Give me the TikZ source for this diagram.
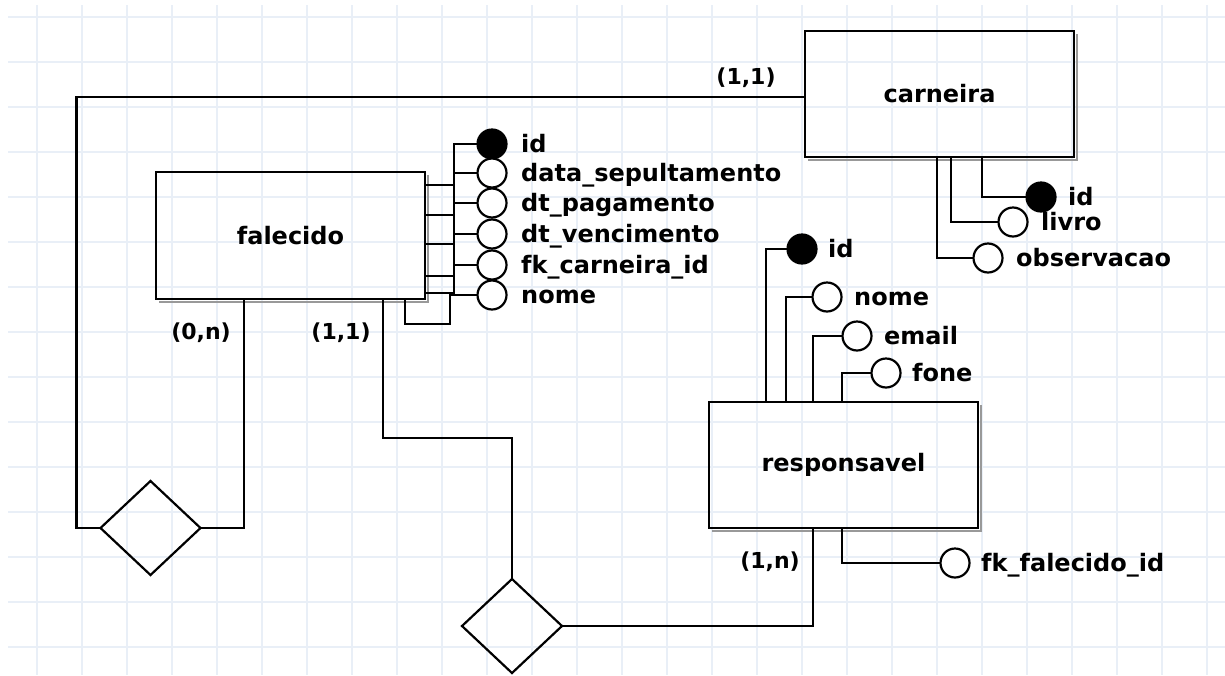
\documentclass[tikz,border=0pt]{standalone}
\usepackage{fontspec}
\setmainfont{DejaVu Sans}
\usetikzlibrary{shapes.geometric,backgrounds}
\begin{document}
\begin{tikzpicture}[x=1pt,y=-1pt,
  gridline/.style={draw={rgb,255:red,233;green,239;blue,247}, line width=1.5pt},
  shadowline/.style={draw=black!40, line width=2.4pt},
  entity/.style={draw, line width=2.6pt, rectangle, minimum width=269pt, minimum height=126pt, inner sep=0pt, outer sep=0pt, font=\fontsize{24pt}{28pt}\selectfont\bfseries},
  rel/.style={diamond, draw, line width=2.2pt, minimum width=100pt, minimum height=94pt, inner sep=0pt, outer sep=0pt},
  keyattr/.style={circle, draw, line width=2.2pt, fill=black, minimum size=29pt, inner sep=0pt, outer sep=0pt},
  attr/.style={circle, draw, line width=2.2pt, fill=white, minimum size=29pt, inner sep=0pt, outer sep=0pt},
  atext/.style={anchor=west, inner sep=0pt, text height=17pt, text depth=0pt, font=\fontsize{24pt}{28pt}\selectfont\bfseries},
  card/.style={inner sep=0pt, font=\fontsize{22pt}{26pt}\selectfont\bfseries},
  conn/.style={line width=2.2pt}
]
\useasboundingbox (0,0) rectangle (1225,675);

% entities
\node[entity, minimum height=127pt] (falecido) at (290.5,235.5) {falecido};
\node[entity] (carneira) at (939.5,94) {carneira};
\node[entity] (responsavel) at (843.5,465) {responsavel};

% relationships
\node[rel] (d1) at (150.5,528) {};
\node[rel] (d2) at (512,626) {};

% falecido attributes
\node[keyattr] (fa1) at (492,144) {};
\node[attr] (fa2) at (492,173) {};
\node[attr] (fa3) at (492,203) {};
\node[attr] (fa4) at (492,234) {};
\node[attr] (fa5) at (492,265) {};
\node[attr] (fa6) at (492,295) {};
\node[atext] (ft1) at (521,144) {id};
\node[atext] (ft2) at (521,173) {data\_sepultamento};
\node[atext] (ft3) at (521,203) {dt\_pagamento};
\node[atext] (ft4) at (521,234) {dt\_vencimento};
\node[atext] (ft5) at (521,265) {fk\_carneira\_id};
\node[atext] (ft6) at (521,295) {nome};

% carneira attributes
\node[keyattr] (ca1) at (1041,197) {};
\node[attr] (ca2) at (1013,222) {};
\node[attr] (ca3) at (988,258) {};
\node[atext] (ct1) at (1068,197) {id};
\node[atext] (ct2) at (1041,222) {livro};
\node[atext] (ct3) at (1016,258) {observacao};

% responsavel attributes
\node[keyattr] (ra1) at (802,249) {};
\node[attr] (ra2) at (827,297) {};
\node[attr] (ra3) at (857,336) {};
\node[attr] (ra4) at (886,373) {};
\node[attr] (ra5) at (955,563) {};
\node[atext] (rt1) at (828,249) {id};
\node[atext] (rt2) at (854,297) {nome};
\node[atext] (rt3) at (884,336) {email};
\node[atext] (rt4) at (912,373) {fone};
\node[atext] (rt5) at (981,563) {fk\_falecido\_id};

% cardinalities
\node[card] (c1) at (746,78) {(1,1)};
\node[card] (c2) at (201,333) {(0,n)};
\node[card] (c3) at (341,333) {(1,1)};
\node[card] (c4) at (770,562) {(1,n)};

% relationship connectors
\draw[conn] ([yshift=-3pt]carneira.west) -| ([xshift=-24pt]d1.west) -- (d1.west);
\draw[conn] (d1.east) -| ([xshift=88pt]falecido.south west);
\draw[conn] ([xshift=227pt]falecido.south west) |- ([yshift=141pt]d2.north) -- (d2.north);
\draw[conn] (d2.east) -| ([xshift=104pt]responsavel.south west);

% falecido attribute connectors
\draw[conn] ([yshift=-13pt]falecido.north east) -| ([xshift=-23.5pt]fa1.west) -- (fa1.west);
\draw[conn] ([yshift=-43pt]falecido.north east) -| ([xshift=-23.5pt]fa2.west) -- (fa2.west);
\draw[conn] ([yshift=-72pt]falecido.north east) -| ([xshift=-23.5pt]fa3.west) -- (fa3.west);
\draw[conn] ([yshift=-104pt]falecido.north east) -| ([xshift=-23.5pt]fa4.west) -- (fa4.west);
\draw[conn] ([yshift=-121pt]falecido.north east) -| ([xshift=-23.5pt]fa5.west) -- (fa5.west);
\draw[conn] ([xshift=-20pt]falecido.south east) -- ++(0,25) -| ([xshift=-27.5pt]fa6.west) -- (fa6.west);

% carneira attribute connectors
\draw[conn] ([xshift=42.5pt]carneira.south) |- (ca1.west);
\draw[conn] ([xshift=11.5pt]carneira.south) |- (ca2.west);
\draw[conn] ([xshift=-2.5pt]carneira.south) |- (ca3.west);

% responsavel attribute connectors
\draw[conn] ([xshift=57pt]responsavel.north west) |- (ra1.west);
\draw[conn] ([xshift=77pt]responsavel.north west) |- (ra2.west);
\draw[conn] ([xshift=104pt]responsavel.north west) |- (ra3.west);
\draw[conn] ([xshift=133pt]responsavel.north west) |- (ra4.west);
\draw[conn] ([xshift=133pt]responsavel.south west) |- (ra5.west);

\begin{scope}[on background layer]
  \fill[white] (0,0) rectangle (1225,675);
  \foreach \gx in {37,82,...,1225} \draw[gridline] (\gx,5) -- (\gx,675);
  \foreach \gy in {17,62,...,675} \draw[gridline] (8,\gy) -- (1225,\gy);
  \draw[shadowline] ([shift={(3pt,-3pt)}]falecido.north east) -- ([shift={(3pt,-3pt)}]falecido.south east) -- ([shift={(3pt,-3pt)}]falecido.south west);
  \draw[shadowline] ([shift={(3pt,-3pt)}]carneira.north east) -- ([shift={(3pt,-3pt)}]carneira.south east) -- ([shift={(3pt,-3pt)}]carneira.south west);
  \draw[shadowline] ([shift={(3pt,-3pt)}]responsavel.north east) -- ([shift={(3pt,-3pt)}]responsavel.south east) -- ([shift={(3pt,-3pt)}]responsavel.south west);
\end{scope}
\end{tikzpicture}
\end{document}
